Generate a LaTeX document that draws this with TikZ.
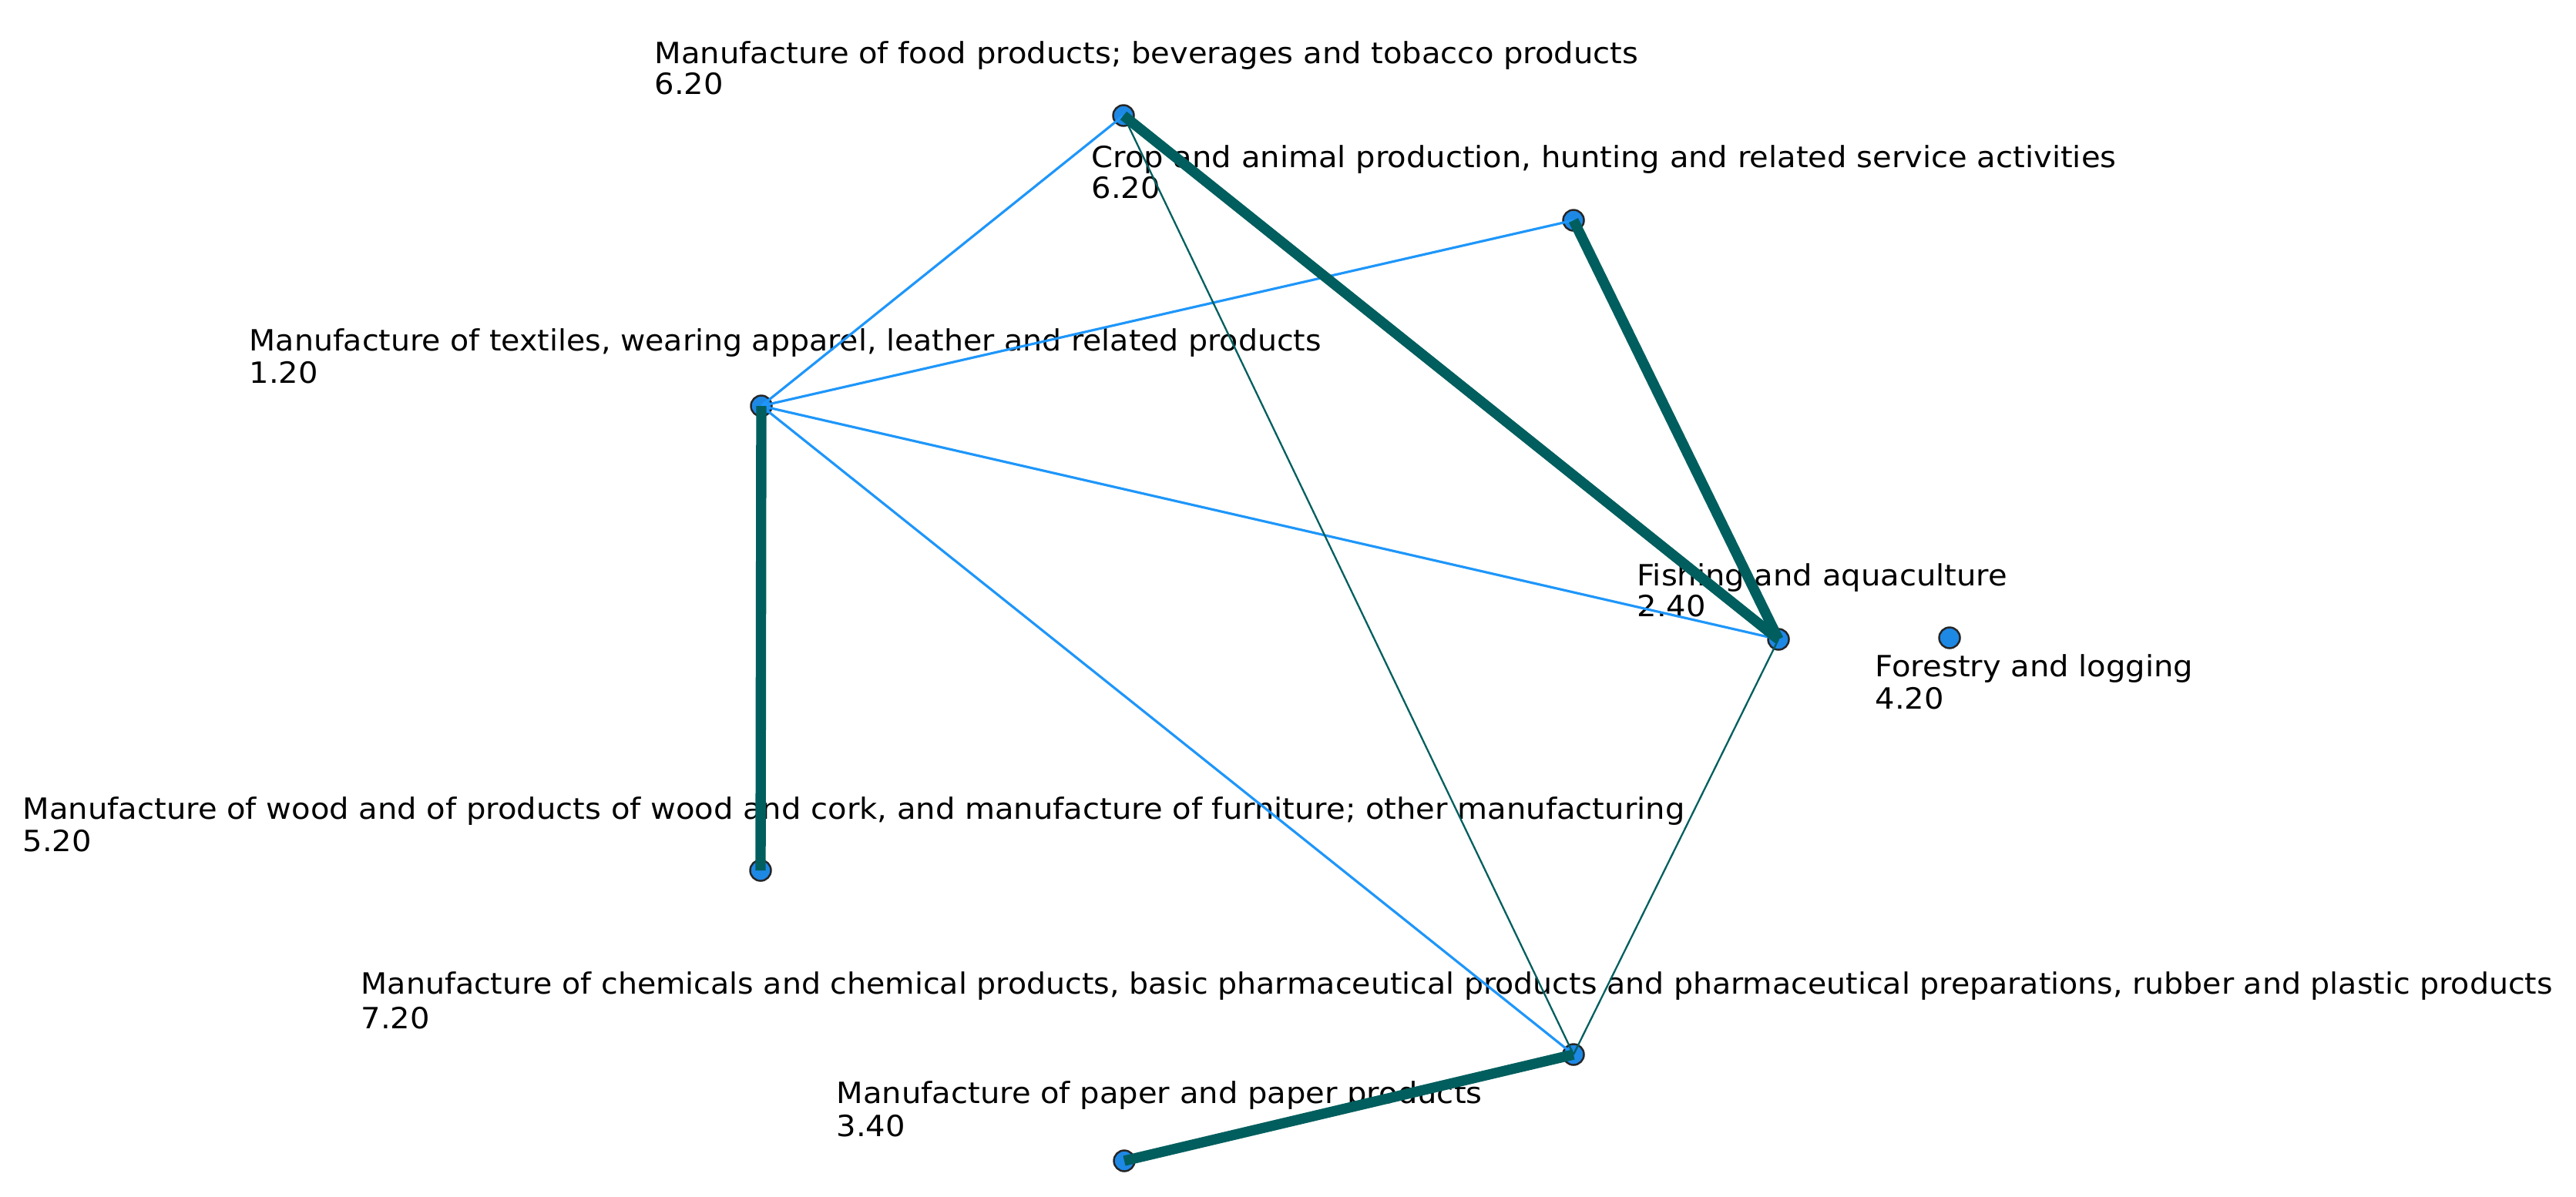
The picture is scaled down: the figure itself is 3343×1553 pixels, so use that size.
\documentclass[tikz,border=0pt]{standalone}
\usepackage{fontspec}
\setmainfont[FakeStretch=1.055]{DejaVu Sans}
\newfontfamily\narrowlbl[FakeStretch=1.04]{DejaVu Sans}
\definecolor{teal1}{RGB}{0,94,94}
\definecolor{blue1}{RGB}{30,150,250}
\definecolor{nodefill}{RGB}{30,136,229}
\begin{document}
\begin{tikzpicture}[x=0.01cm,y=-0.01cm,
  lbl/.style={anchor=base west,inner sep=0pt,font=\fontsize{10.8}{12}\selectfont},
  nlbl/.style={lbl,font=\narrowlbl\fontsize{10.8}{12}\selectfont},
  dot/.style={circle,draw=black!85,line width=0.7pt,fill=nodefill,minimum size=0.27cm,inner sep=0pt},
  thick1/.style={teal1,line width=3.8pt},
  thin1/.style={teal1,line width=0.65pt},
  blueline/.style={blue1,line width=0.9pt}]
\useasboundingbox (0,0) rectangle (3343,1553);
% labels
\node[lbl] (foodL) at (849,82) {Manufacture of food products; beverages and tobacco products};
\node[lbl] (foodV) at (849,122) {6.20};
\node[lbl] (cropL) at (1416,217) {Crop and animal production, hunting and related service activities};
\node[lbl] (cropV) at (1416,257) {6.20};
\node[nlbl] (texL) at (323,455) {Manufacture of textiles, wearing apparel, leather and related products};
\node[lbl] (texV) at (323,497) {1.20};
\node[lbl] (fishL) at (2124,760) {Fishing and aquaculture};
\node[lbl] (fishV) at (2124,800) {2.40};
\node[lbl] (forL) at (2433,878) {Forestry and logging};
\node[lbl] (forV) at (2433,920) {4.20};
\node[lbl] (woodL) at (29,1063) {Manufacture of wood and of products of wood and cork, and manufacture of furniture; other manufacturing};
\node[lbl] (woodV) at (29,1105) {5.20};
\node[nlbl] (chemL) at (468,1290) {Manufacture of chemicals and chemical products, basic pharmaceutical products and pharmaceutical preparations, rubber and plastic products};
\node[lbl] (chemV) at (468,1335) {7.20};
\node[lbl] (papL) at (1085,1432) {Manufacture of paper and paper products};
\node[lbl] (papV) at (1085,1475) {3.40};
% nodes
\node[dot] (food) at (1458,150) {};
\node[dot] (crop) at (2042,286) {};
\node[dot] (tex) at (988,527) {};
\node[dot] (fish) at (2308,830) {};
\node[dot] (forest) at (2530,828) {};
\node[dot] (wood) at (987,1130) {};
\node[dot] (chem) at (2042,1369) {};
\node[dot] (paper) at (1459,1507) {};
% edges
\draw[blueline] (food.center) -- (tex.center);
\draw[blueline] (tex.center) -- (crop.center);
\draw[blueline] (tex.center) -- (fish.center);
\draw[blueline] (tex.center) -- (chem.center);
\draw[thin1] (food.center) -- (chem.center);
\draw[thin1] (fish.center) -- (chem.center);
\draw[thick1] (food.center) -- (fish.center);
\draw[thick1] (crop.center) -- (fish.center);
\draw[thick1] (tex.center) -- (wood.center);
\draw[thick1] (chem.center) -- (paper.center);
\end{tikzpicture}
\end{document}
